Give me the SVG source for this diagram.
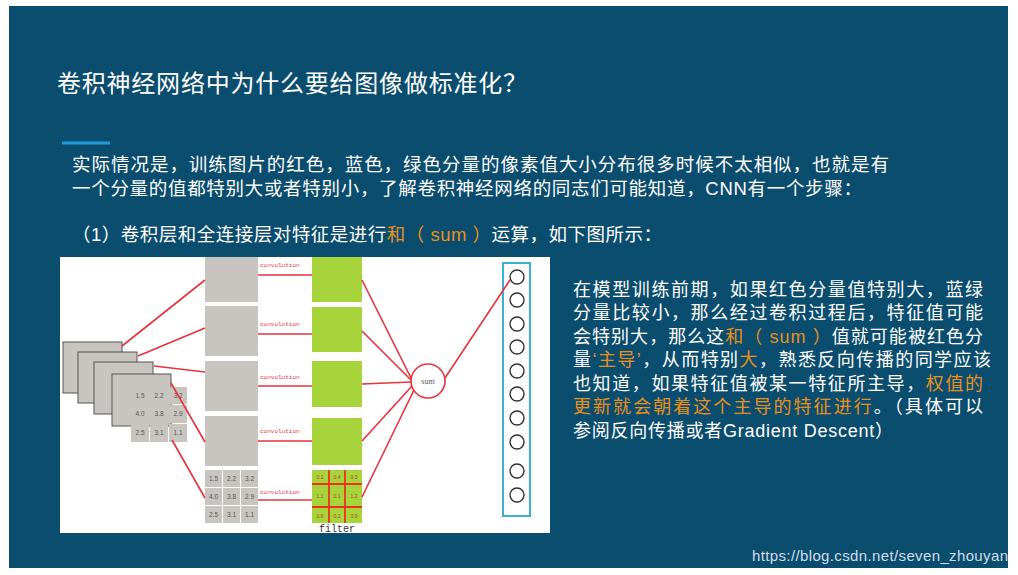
<svg xmlns="http://www.w3.org/2000/svg" width="1018" height="575" viewBox="0 0 1018 575">
<style>
.t{font-family:"Liberation Sans","Noto Sans CJK SC",sans-serif;fill:#fff}
.o{fill:#e8901e}
.r{stroke:#e8323c;stroke-width:1.6;fill:none}
.g{fill:#c8c5c0}
.gr{fill:#a6d43a}
.cv{font-family:"Liberation Mono",monospace;font-size:6px;fill:#e8323c}
.n{font-family:"Liberation Sans",sans-serif;font-size:6.5px;fill:#555;text-anchor:middle}
.nf{font-family:"Liberation Sans",sans-serif;font-size:5px;fill:#c0392b;text-anchor:middle}
.oc{fill:#fff;stroke:#333;stroke-width:1.4}
</style>
<rect width="1018" height="575" fill="#fff"/>
<rect x="9" y="6" width="999" height="562" fill="#0b4d6e"/>
<text class="t" x="57" y="92" font-size="24" textLength="470">卷积神经网络中为什么要给图像做标准化？</text>
<line x1="62" y1="143" x2="110" y2="143" stroke="#1e9bd7" stroke-width="3"/>
<text class="t" x="72" y="171" font-size="18.5" textLength="817">实际情况是，训练图片的红色，蓝色，绿色分量的像素值大小分布很多时候不太相似，也就是有</text>
<text class="t" x="72" y="195" font-size="18.5" textLength="790">一个分量的值都特别大或者特别小，了解卷积神经网络的同志们可能知道，CNN有一个步骤：</text>
<text class="t" x="72" y="241" font-size="18.5" textLength="590">（1）卷积层和全连接层对特征是进行<tspan class="o">和（ sum ）</tspan>运算，如下图所示：</text>
<g id="figure">
<rect x="60" y="257" width="490" height="276" fill="#fff"/>
</g>
<g id="input-sheets">
<rect x="63" y="342" width="59" height="51" class="g" stroke="#555"/>
<rect x="78" y="352" width="59" height="51" class="g" stroke="#555"/>
<rect x="94" y="362" width="59" height="52" class="g" stroke="#555"/>
<rect x="112" y="374" width="59" height="52" class="g" stroke="#555"/>
<g id="input-matrix">
<rect x="131" y="387" width="18" height="17" class="g"/><rect x="150" y="387" width="18" height="17" class="g"/><rect x="169" y="387" width="18" height="17" class="g"/>
<rect x="131" y="405" width="18" height="18" class="g"/><rect x="150" y="405" width="18" height="18" class="g"/><rect x="169" y="405" width="18" height="18" class="g"/>
<rect x="131" y="424" width="18" height="18" class="g"/><rect x="150" y="424" width="18" height="18" class="g"/><rect x="169" y="424" width="18" height="18" class="g"/>
<text class="n" x="140" y="398">1.5</text><text class="n" x="159" y="398">2.2</text><text class="n" x="178" y="398">3.2</text>
<text class="n" x="140" y="416">4.0</text><text class="n" x="159" y="416">3.8</text><text class="n" x="178" y="416">2.9</text>
<text class="n" x="140" y="435">2.5</text><text class="n" x="159" y="435">3.1</text><text class="n" x="178" y="435">1.1</text>
</g>
</g>
<g id="feature-maps">
<rect x="205" y="257" width="53" height="45" class="g"/>
<rect x="205" y="306" width="53" height="50" class="g"/>
<rect x="205" y="361" width="53" height="50" class="g"/>
<rect x="205" y="416" width="53" height="50" class="g"/>
<rect x="205" y="470" width="17" height="17" class="g"/><rect x="223" y="470" width="17" height="17" class="g"/><rect x="241" y="470" width="17" height="17" class="g"/>
<rect x="205" y="488" width="17" height="17" class="g"/><rect x="223" y="488" width="17" height="17" class="g"/><rect x="241" y="488" width="17" height="17" class="g"/>
<rect x="205" y="506" width="17" height="17" class="g"/><rect x="223" y="506" width="17" height="17" class="g"/><rect x="241" y="506" width="17" height="17" class="g"/>
<text class="n" x="213.5" y="481">1.5</text><text class="n" x="231.5" y="481">2.2</text><text class="n" x="249.5" y="481">3.2</text>
<text class="n" x="213.5" y="499">4.0</text><text class="n" x="231.5" y="499">3.8</text><text class="n" x="249.5" y="499">2.9</text>
<text class="n" x="213.5" y="517">2.5</text><text class="n" x="231.5" y="517">3.1</text><text class="n" x="249.5" y="517">1.1</text>
</g>
<g id="filters">
<rect x="312" y="257" width="50" height="45" class="gr"/>
<rect x="312" y="307" width="50" height="45" class="gr"/>
<rect x="312" y="361" width="50" height="46" class="gr"/>
<rect x="312" y="418" width="50" height="47" class="gr"/>
<rect x="312" y="470" width="50" height="53" class="gr"/>
<path d="M312 484H362M312 507H362M329 470V523M345 470V523" stroke="#e8321e" stroke-width="1.8"/>
<text class="nf" x="320" y="479">0.2</text><text class="nf" x="337" y="479">0.4</text><text class="nf" x="354" y="479">0.3</text>
<text class="nf" x="320" y="498">1.1</text><text class="nf" x="337" y="498">0.1</text><text class="nf" x="354" y="498">1.2</text>
<text class="nf" x="320" y="518">0.6</text><text class="nf" x="337" y="518">0.1</text><text class="nf" x="354" y="518">0.9</text>
<text x="337" y="532" font-family="Liberation Mono,monospace" font-size="10" fill="#333" text-anchor="middle">filter</text>
</g>
<g id="sum">
<circle cx="428" cy="381" r="17" fill="#fff" stroke="#e8323c" stroke-width="1.6"/>
<text x="428" y="384" font-family="Liberation Serif,serif" font-size="8" fill="#555" text-anchor="middle">sum</text>
</g>
<g id="output">
<rect x="503" y="263" width="27" height="253" fill="#fff" stroke="#3bb0d0" stroke-width="2"/>
<circle cx="517" cy="277" r="7" class="oc"/><circle cx="517" cy="300" r="7" class="oc"/><circle cx="517" cy="324" r="7" class="oc"/>
<circle cx="517" cy="347" r="7" class="oc"/><circle cx="517" cy="371" r="7" class="oc"/><circle cx="517" cy="394" r="7" class="oc"/>
<circle cx="517" cy="418" r="7" class="oc"/><circle cx="517" cy="442" r="7" class="oc"/><circle cx="517" cy="471" r="7" class="oc"/>
<circle cx="517" cy="495" r="7" class="oc"/>
</g>
<g id="connectors">
<path class="r" d="M205 280L122 346M205 328L138 356M205 372L154 366M205 442L171 383M205 498L172 440"/>
<path class="r" d="M258 275H312M258 334H312M258 386H312M258 441H312M258 500H312"/>
<path class="r" d="M362 280L411 378M362 331L411 380M362 384L411 382M362 441L412 386M362 497L414 390M445 378L510 280"/>
<text class="cv" x="260" y="267">convolution</text>
<text class="cv" x="260" y="326">convolution</text>
<text class="cv" x="260" y="379">convolution</text>
<text class="cv" x="260" y="433">convolution</text>
<text class="cv" x="260" y="494">convolution</text>
</g>
<g id="explanation" font-size="18">
<text class="t" x="573" y="296" textLength="410">在模型训练前期，如果红色分量值特别大，蓝绿</text>
<text class="t" x="573" y="319" textLength="410">分量比较小，那么经过卷积过程后，特征值可能</text>
<text class="t" x="573" y="343" textLength="410">会特别大，那么这<tspan class="o">和（ sum ）</tspan>值就可能被红色分</text>
<text class="t" x="573" y="366" textLength="418">量<tspan class="o">‘主导’</tspan>，从而特别<tspan class="o">大</tspan>，熟悉反向传播的同学应该</text>
<text class="t" x="573" y="390" textLength="410">也知道，如果特征值被某一特征所主导，<tspan class="o">权值的</tspan></text>
<text class="t" x="573" y="413" textLength="410"><tspan class="o">更新就会朝着这个主导的特征进行</tspan>。（具体可以</text>
<text class="t" x="573" y="437" textLength="320">参阅反向传播或者Gradient Descent）</text>
</g>
<text x="752" y="561" font-family="Liberation Sans,sans-serif" font-size="15" fill="#d0dde6" textLength="256">https://blog.csdn.net/seven_zhouyan</text>
</svg>
